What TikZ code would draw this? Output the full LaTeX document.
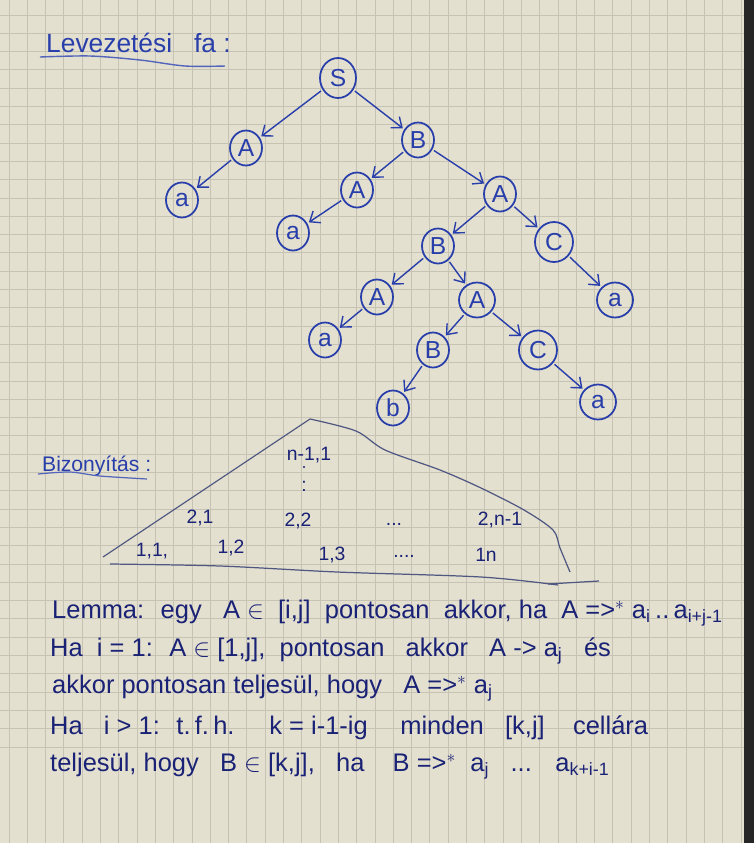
\documentclass[tikz,border=0pt]{standalone}
\usepackage{fontspec}
\setmainfont{Liberation Sans}
\usetikzlibrary{arrows.meta,shapes.geometric}

\definecolor{paper}{RGB}{228,224,208}
\definecolor{gridline}{RGB}{198,194,180}
\definecolor{pen}{RGB}{40,62,170}
\definecolor{ink}{RGB}{26,34,118}
\definecolor{pencil}{RGB}{80,88,130}

\tikzset{
  vert/.style={draw=pen, ellipse, line width=1pt, minimum width=0.64cm,
    minimum height=0.7cm, inner sep=1pt, text=pen,
    font=\fontsize{14}{14}\selectfont},
  branch/.style={draw=pen, line width=0.8pt,
    -{Straight Barb[length=5pt,width=8pt]}, shorten >=1pt, shorten <=1pt},
  cell/.style={text=ink, font=\fontsize{11}{11}\selectfont},
  lemma/.style={anchor=west, text=ink, font=\fontsize{14.5}{16}\selectfont},
  scrawl/.style={draw=pencil, line width=0.7pt},
}

\newcommand{\sub}[1]{\textsubscript{#1}}

\begin{document}
\begin{tikzpicture}[x=0.02cm, y=-0.02cm]

\useasboundingbox (0,0) rectangle (754,843);
\fill[paper] (0,0) rectangle (754,843);
\foreach \i in {0,...,40} {
  \draw[gridline, line width=0.5pt] ({9+18.3*\i},0) -- ({9+18.3*\i},843);
  \draw[gridline, line width=0.5pt] (0,{15+18.3*\i}) -- (754,{15+18.3*\i});
}
\fill[black!85] (744,0) rectangle (754,843);

% title
\node[text=pen, anchor=west, font=\fontsize{15}{15}\selectfont] (title) at (40,43) {Levezetési \ \ fa :};
\draw[pen!80, line width=0.8pt] plot[smooth] coordinates {(40,57) (90,56) (140,60) (185,66) (225,66)};

% derivation tree
\node[vert, minimum width=0.72cm, minimum height=0.8cm] (S) at (338,78) {S};
\node[vert] (A1) at (246,148) {A};
\node[vert] (B1) at (418,140) {B};
\node[vert] (a1) at (182,200) {a};
\node[vert] (A2) at (357,190) {A};
\node[vert] (A3) at (500,194) {A};
\node[vert] (a2) at (293,233) {a};
\node[vert] (B2) at (438,246) {B};
\node[vert, minimum width=0.76cm, minimum height=0.8cm] (C1) at (554,242) {C};
\node[vert] (A4) at (377,297) {A};
\node[vert, minimum width=0.72cm] (A5) at (477,300) {A};
\node[vert, minimum width=0.72cm] (a3) at (615,300) {a};
\node[vert] (a4) at (325,340) {a};
\node[vert] (B3) at (433,350) {B};
\node[vert, minimum width=0.76cm, minimum height=0.78cm] (C2) at (538,350) {C};
\node[vert] (b) at (393,408) {b};
\node[vert, minimum width=0.72cm] (a5) at (598,402) {a};

\draw[branch] (S) -- (A1);
\draw[branch] (S) -- (B1);
\draw[branch] (A1) -- (a1);
\draw[branch] (B1) -- (A2);
\draw[branch] (B1) -- (A3);
\draw[branch] (A2) -- (a2);
\draw[branch] (A3) -- (B2);
\draw[branch] (A3) -- (C1);
\draw[branch] (C1) -- (a3);
\draw[branch] (B2) -- (A4);
\draw[branch] (B2) -- (A5);
\draw[branch] (A4) -- (a4);
\draw[branch] (A5) -- (B3);
\draw[branch] (A5) -- (C2);
\draw[branch] (B3) -- (b);
\draw[branch] (C2) -- (a5);

% proof: CYK table
\node[text=pen, anchor=west, font=\fontsize{12}{12}\selectfont] (proof) at (36,466) {Bizonyítás :};
\draw[pen!80, line width=0.7pt] plot[smooth] coordinates {(38,474) (70,472) (100,476) (147,479)};

\coordinate (top) at (310,419);
\coordinate (left) at (103,557);
\coordinate (right) at (570,572);
\draw[scrawl] (left) -- (top);
\draw[scrawl] plot[smooth] coordinates {(310,419) (356,431) (385,450) (440,470) (481,488) (524,510) (553,530) (560,548) (570,572)};
\draw[scrawl] plot[smooth] coordinates {(110,564) (220,566) (337,572) (481,577) (558,585)};
\draw[scrawl] (548,584) -- (599,581);

\node[cell] (c11) at (152,551) {1,1,};
\node[cell] (c12) at (231,548) {1,2};
\node[cell] (c13) at (332,555) {1,3};
\node[cell] (cdots1) at (404,556) {....};
\node[cell] (c1n) at (486,555) {1n};
\node[cell] (c21) at (200,518) {2,1};
\node[cell] (c22) at (298,521) {2,2};
\node[cell] (cdots2) at (394,524) {...};
\node[cell] (c2n) at (500,520) {2,n-1};
\node[cell] (cn1) at (309,455) {n-1,1};
\fill[ink] (304,467) circle (1.2);
\node[cell] (cvdots) at (304,486) {:};

% lemma
\node[lemma] (l1) at (46,613) {Lemma: \ egy \ \ A $\in$ \ [i,j] \ pontosan \ akkor, ha \ A =>$^{*}$ a\sub{i}\,..\,a\sub{i+j-1}};
\node[lemma] (l2) at (44,651) {Ha \ i = 1: \ A $\in$ [1,j], \ pontosan \ \ akkor \ \ A -> a\sub{j} \ \ és};
\node[lemma] (l3) at (46,688) {akkor pontosan teljesül, hogy \ \ A =>$^{*}$ a\sub{j}};
\node[lemma] (l4) at (44,728) {Ha \ \ i > 1: \ t.\,f.\,h. \quad k = i-1-ig \quad minden \ \ [k,j] \ \ \ cellára};
\node[lemma] (l5) at (44,766) {teljesül, hogy \ \ B $\in$ [k,j], \ \ ha \ \ \ B =>$^{*}$ \ a\sub{j} \ \ ... \ \ a\sub{k+i-1}};

\end{tikzpicture}
\end{document}
